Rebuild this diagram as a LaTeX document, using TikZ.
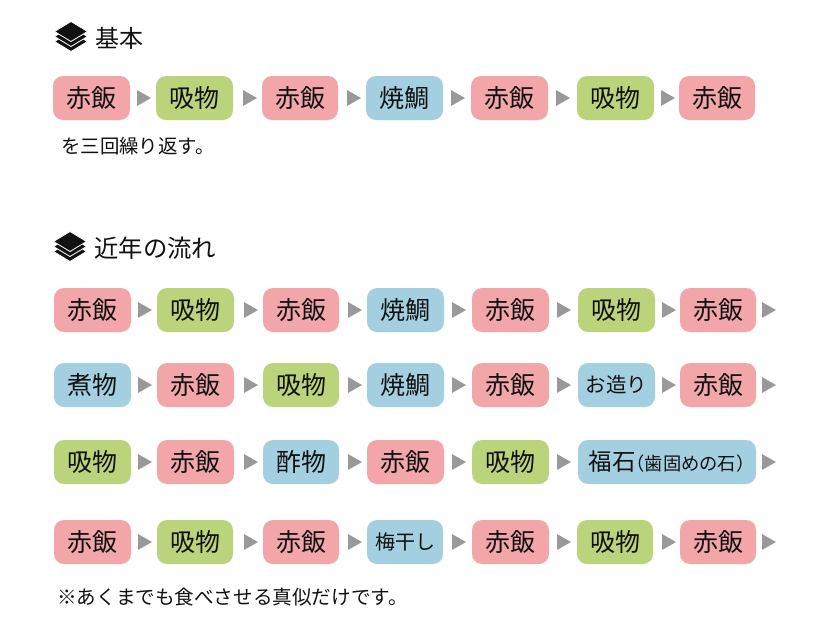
\documentclass[tikz,border=0pt]{standalone}
\usepackage{fontspec}
\setmainfont{Noto Sans CJK JP}
\newfontfamily\halffont[RawFeature=+halt]{Noto Sans CJK JP}
\definecolor{pinkb}{HTML}{F2A6A9}
\definecolor{greenb}{HTML}{BBD47C}
\definecolor{blueb}{HTML}{A3CFE0}
\definecolor{arrowc}{HTML}{999999}
\definecolor{inkc}{HTML}{111111}
\tikzset{
 chip/.style={rounded corners=10pt,inner sep=0pt,minimum height=44pt,text=inkc,font=\fontsize{25}{25}\selectfont},
 red/.style={chip,fill=pinkb},
 grn/.style={chip,fill=greenb},
 blu/.style={chip,fill=blueb},
 plain/.style={inner sep=0pt,text=inkc,anchor=west},
}
\newcommand{\bx}[6]{% name,x0,x1,y,style,text
 \pgfmathsetmacro{\bxw}{#3-#2}\pgfmathsetmacro{\bxc}{(#2+#3)/2}
 \node[#5,minimum width=\bxw pt] (#1) at (\bxc,#4) {#6};}
\newcommand{\tri}[2]{\fill[arrowc] (#1,#2-8) -- (#1+14,#2) -- (#1,#2+8) -- cycle;}
\newcommand{\layers}[2]{%
 \begin{scope}[shift={(#1,#2)}]
  \foreach \o in {10,5,0}{
   \filldraw[fill=inkc,draw=white,line width=0.8pt,line join=round] (0,\o-10) -- (16.5,\o) -- (0,\o+10) -- (-16.5,\o) -- cycle;}
 \end{scope}}
\begin{document}
\begin{tikzpicture}[x=1pt,y=-1pt]
\useasboundingbox (0,0) rectangle (820,630);
\fill[white] (0,0) rectangle (820,630);
\layers{71}{31.5}
\node[plain,font=\fontsize{24}{24}\selectfont] (h1) at (95,38) {基本};
\bx{a1}{53}{130}{98}{red}{赤飯}
\bx{a2}{156}{233}{98}{grn}{吸物}
\bx{a3}{262}{338}{98}{red}{赤飯}
\bx{a4}{366}{443}{98}{blu}{焼鯛}
\bx{a5}{471}{548}{98}{red}{赤飯}
\bx{a6}{577}{654}{98}{grn}{吸物}
\bx{a7}{679}{755}{98}{red}{赤飯}
\foreach \x in {137,243,347,451,556,661}{\tri{\x}{98}}
\node[plain,font=\fontsize{19.4}{19.4}\selectfont] (n1) at (61,146) {を三回繰り返す。};
\layers{70}{241.5}
\node[plain,font=\fontsize{24.4}{24.4}\selectfont] (h2) at (94,248) {近年の流れ};
\bx{b1}{54}{131}{310}{red}{赤飯}
\bx{b2}{157}{234}{310}{grn}{吸物}
\bx{b3}{263}{339}{310}{red}{赤飯}
\bx{b4}{367}{444}{310}{blu}{焼鯛}
\bx{b5}{472}{549}{310}{red}{赤飯}
\bx{b6}{578}{655}{310}{grn}{吸物}
\bx{b7}{680}{756}{310}{red}{赤飯}
\bx{c1}{54}{131}{385}{blu}{煮物}
\bx{c2}{157}{234}{385}{red}{赤飯}
\bx{c3}{263}{339}{385}{grn}{吸物}
\bx{c4}{367}{444}{385}{blu}{焼鯛}
\bx{c5}{472}{549}{385}{red}{赤飯}
\bx{c6}{578}{655}{385}{blu}{\fontsize{20.5}{20.5}\selectfont お造り}
\bx{c7}{680}{756}{385}{red}{赤飯}
\bx{d1}{54}{131}{462}{grn}{吸物}
\bx{d2}{157}{234}{462}{red}{赤飯}
\bx{d3}{263}{339}{462}{blu}{酢物}
\bx{d4}{367}{444}{462}{red}{赤飯}
\bx{d5}{472}{549}{462}{grn}{吸物}
\bx{d6}{578}{756}{462}{blu}{\fontsize{23.5}{23.5}\selectfont 福石\fontsize{18.3}{18.3}\selectfont{\halffont （}歯固めの石{\halffont ）}}
\bx{e1}{54}{131}{542}{red}{赤飯}
\bx{e2}{157}{233}{542}{grn}{吸物}
\bx{e3}{263}{339}{542}{red}{赤飯}
\bx{e4}{367}{443}{542}{blu}{\fontsize{20}{20}\selectfont 梅干し}
\bx{e5}{472}{549}{542}{red}{赤飯}
\bx{e6}{577}{653}{542}{grn}{吸物}
\bx{e7}{680}{756}{542}{red}{赤飯}
\foreach \y in {310,385,542}{\foreach \x in {138,244,348,452,557,662,762}{\tri{\x}{\y}}}
\foreach \x in {138,244,348,452,557,762}{\tri{\x}{462}}
\node[plain,font=\fontsize{19.6}{19.6}\selectfont] (n2) at (57,597) {※あくまでも食べさせる真似だけです。};
\end{tikzpicture}
\end{document}
